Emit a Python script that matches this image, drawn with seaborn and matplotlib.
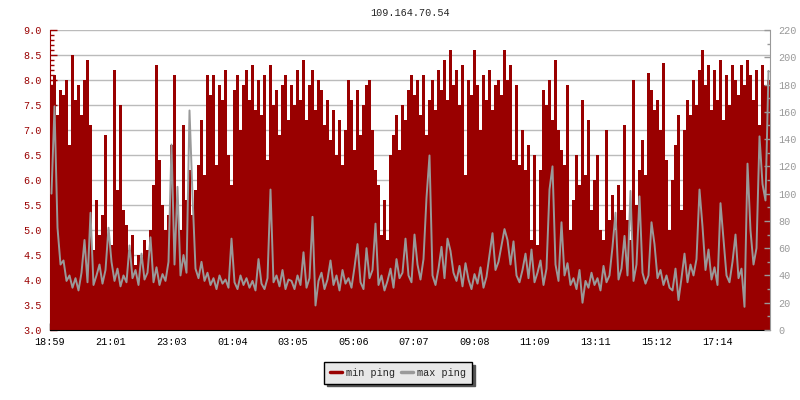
import numpy as np
import pandas as pd
import seaborn as sns
import matplotlib.pyplot as plt
from matplotlib.ticker import MultipleLocator, FormatStrFormatter
from matplotlib.lines import Line2D

# one sample every 6 minutes, 24h starting 18:59
START = "2024-01-01 18:59"
STEP_MIN = 6

# min ping (left axis, ms)
min_ping = [
    7.9, 8.1, 7.3, 7.8, 7.7, 8.0, 6.7, 8.5, 7.6, 7.9, 7.3, 8.0, 8.4, 7.1, 4.6, 5.6, 4.9, 5.3, 6.9, 4.8,
    4.7, 8.2, 5.8, 7.5, 5.4, 5.1, 4.6, 4.9, 4.3, 4.5, 4.4, 4.8, 4.6, 5.0, 5.9, 8.3, 6.4, 5.5, 5.0, 5.3,
    6.7, 8.1, 5.4, 5.0, 7.1, 5.6, 6.2, 5.3, 5.8, 6.3, 7.2, 6.1, 8.1, 7.7, 8.1, 6.3, 7.9, 7.6, 8.2, 6.5,
    5.9, 7.8, 8.1, 7.0, 7.9, 8.2, 7.6, 8.3, 7.4, 8.0, 7.3, 8.1, 6.4, 8.3, 7.5, 7.8, 6.9, 7.9, 8.1, 7.2,
    7.9, 7.5, 8.2, 7.6, 8.4, 7.2, 7.9, 8.2, 7.4, 8.0, 7.8, 7.1, 7.6, 6.8, 7.4, 6.5, 7.2, 6.3, 7.0, 8.0,
    7.6, 6.6, 7.8, 6.9, 7.5, 7.9, 8.0, 7.0, 6.2, 5.9, 4.9, 5.6, 4.8, 6.5, 6.9, 7.3, 6.6, 7.5, 7.2, 7.8,
    8.1, 7.7, 8.0, 7.3, 8.1, 6.9, 7.6, 8.0, 7.4, 8.2, 7.8, 8.4, 7.6, 8.6, 7.9, 8.2, 7.5, 8.3, 6.1, 8.0,
    7.7, 8.6, 7.9, 7.0, 8.1, 7.6, 8.2, 7.4, 7.9, 8.0, 7.7, 8.6, 8.0, 8.3, 6.4, 7.9, 6.3, 7.0, 6.2, 6.7,
    4.8, 6.5, 4.7, 6.2, 7.8, 7.5, 8.0, 7.2, 8.4, 7.0, 6.6, 6.3, 7.9, 5.0, 5.6, 6.5, 5.9, 7.6, 6.1, 7.2,
    5.4, 6.0, 6.5, 5.0, 4.8, 7.0, 5.2, 5.7, 5.0, 5.9, 5.4, 7.1, 5.2, 4.8, 8.0, 5.5, 6.2, 6.8, 6.1, 8.15,
    7.8, 7.4, 7.6, 7.0, 8.35, 6.4, 5.0, 6.0, 6.7, 7.3, 5.4, 7.0, 7.6, 7.3, 8.0, 7.5, 8.2, 8.6, 7.9, 8.3,
    7.4, 8.2, 7.6, 8.4, 7.2, 8.1, 7.5, 8.3, 8.0, 7.7, 8.3, 7.9, 8.4, 8.1, 7.6, 8.2, 7.1, 8.3, 7.9, 8.0,
]

# max ping (right axis, ms)
max_ping = [
    100, 164, 75, 48, 51, 36, 40, 31, 38, 29, 42, 66, 35, 86, 33, 40, 48, 34, 44, 75,
    50, 36, 45, 32, 40, 35, 62, 38, 44, 33, 56, 37, 42, 68, 35, 46, 33, 41, 36, 50,
    136, 48, 105, 40, 55, 42, 161, 99, 45, 38, 50, 36, 42, 33, 38, 30, 40, 34, 37, 31,
    67, 35, 30, 40, 33, 38, 31, 36, 29, 52, 34, 30, 38, 103, 35, 40, 32, 44, 30, 37,
    36, 30, 40, 33, 57, 31, 38, 83, 18, 36, 42, 30, 37, 51, 33, 40, 29, 44, 34, 38,
    31, 46, 63, 35, 30, 60, 38, 44, 78, 33, 40, 29, 36, 45, 31, 52, 38, 42, 67, 40,
    35, 70, 48, 37, 52, 97, 128, 40, 33, 45, 61, 38, 67, 58, 42, 36, 47, 32, 49, 37,
    30, 41, 34, 46, 31, 39, 55, 71, 44, 50, 62, 74, 66, 48, 65, 40, 35, 44, 56, 38,
    59, 35, 42, 51, 33, 45, 103, 120, 48, 36, 79, 40, 49, 33, 38, 30, 44, 20, 36, 31,
    42, 33, 38, 29, 47, 35, 40, 61, 86, 37, 45, 69, 40, 102, 36, 48, 98, 42, 34, 40,
    79, 63, 38, 44, 33, 40, 31, 29, 45, 22, 38, 56, 35, 48, 40, 52, 103, 76, 44, 59,
    37, 46, 33, 93, 66, 40, 35, 50, 70, 38, 45, 17, 122, 73, 48, 60, 142, 107, 95, 190,
]

tick_labels = ["18:59", "21:01", "23:03", "01:04", "03:05", "05:06",
               "07:07", "09:08", "11:09", "13:11", "15:12", "17:14"]

RED = "#990000"
GREY = "#999999"
FONT = ["Liberation Mono", "DejaVu Sans Mono"]

sns.set_style("white")
plt.rcParams["font.family"] = FONT
plt.rcParams["font.size"] = 7.3

times = pd.date_range(START, periods=len(min_ping), freq=f"{STEP_MIN}min")
edges = times.append(pd.DatetimeIndex([times[-1] + pd.Timedelta(minutes=STEP_MIN)]))
df = pd.DataFrame({"time": edges,
                   "min": np.append(min_ping, min_ping[-1]),
                   "max": np.append(max_ping, max_ping[-1])})
# grey line drawn through the middle of each sample
mid = pd.DataFrame({"time": times + pd.Timedelta(minutes=STEP_MIN / 2),
                    "max": max_ping})

fig = plt.figure(figsize=(8, 4), dpi=100)
ax = fig.add_axes([0.0625, 0.175, 0.9, 0.75])
ax2 = ax.twinx()

ax.fill_between(df["time"], 3.0, df["min"], step="post", color=RED, linewidth=0)
sns.lineplot(data=mid, x="time", y="max", ax=ax2, color=GREY, linewidth=1.4)

ax.set_xlim(edges[0], edges[-1])
ax.set_ylim(3.0, 9.0)
ax2.set_ylim(0, 220)

# tick positions from the labels (after midnight -> next day)
base = pd.Timestamp(START)
tick_times = []
for lab in tick_labels:
    t = pd.Timestamp(f"{base.date()} {lab}")
    if t < base:
        t += pd.Timedelta(days=1)
    tick_times.append(t)
ax.set_xticks(tick_times)
ax.set_xticklabels(tick_labels)

ax.yaxis.set_major_locator(MultipleLocator(0.5))
ax.yaxis.set_minor_locator(MultipleLocator(0.1))
ax.yaxis.set_major_formatter(FormatStrFormatter("%.1f"))
ax2.yaxis.set_major_locator(MultipleLocator(20))
ax2.yaxis.set_minor_locator(MultipleLocator(10))

ax.yaxis.grid(True, color="#bbbbbb", linewidth=1)
ax.set_axisbelow(True)

ax.tick_params(axis="y", which="major", direction="in", length=5, width=1,
               color=RED, labelcolor=RED, pad=6, left=True)
ax.tick_params(axis="y", which="minor", direction="in", length=3, width=1,
               color=RED, left=True)
ax.tick_params(axis="x", direction="in", length=5, width=1, color="black",
               labelcolor="black", pad=5, bottom=True)
ax2.tick_params(axis="y", which="major", direction="in", length=4, width=1,
                color=GREY, labelcolor=GREY, pad=6, right=True)
ax2.tick_params(axis="y", which="minor", direction="in", length=2, width=1,
                color=GREY, right=True)

for a in (ax, ax2):
    a.spines["top"].set_visible(False)
ax.spines["left"].set_color(RED)
ax.spines["bottom"].set_color("black")
ax.spines["right"].set_visible(False)
ax2.spines["left"].set_visible(False)
ax2.spines["bottom"].set_visible(False)
ax2.spines["right"].set_color(GREY)

ax.set_xlabel("")
ax.set_ylabel("")
ax2.set_xlabel("")
ax2.set_ylabel("")

ax.set_title("109.164.70.54", fontsize=7.3, pad=10)

handles = [Line2D([], [], color=RED, linewidth=2.5),
           Line2D([], [], color=GREY, linewidth=2.5)]
leg = fig.legend(handles, ["min ping", "max ping"], loc="center",
                 bbox_to_anchor=(0.4975, 0.0675), ncol=2, frameon=True,
                 fancybox=False, edgecolor="black", facecolor="#e8e8e8",
                 framealpha=1, shadow={"color": "#555555", "alpha": 1},
                 handlelength=1.2, handletextpad=0.4, columnspacing=0.6,
                 borderpad=0.55, fontsize=7.3)
leg.get_frame().set_linewidth(1)

fig.savefig("out.png", dpi=100)
